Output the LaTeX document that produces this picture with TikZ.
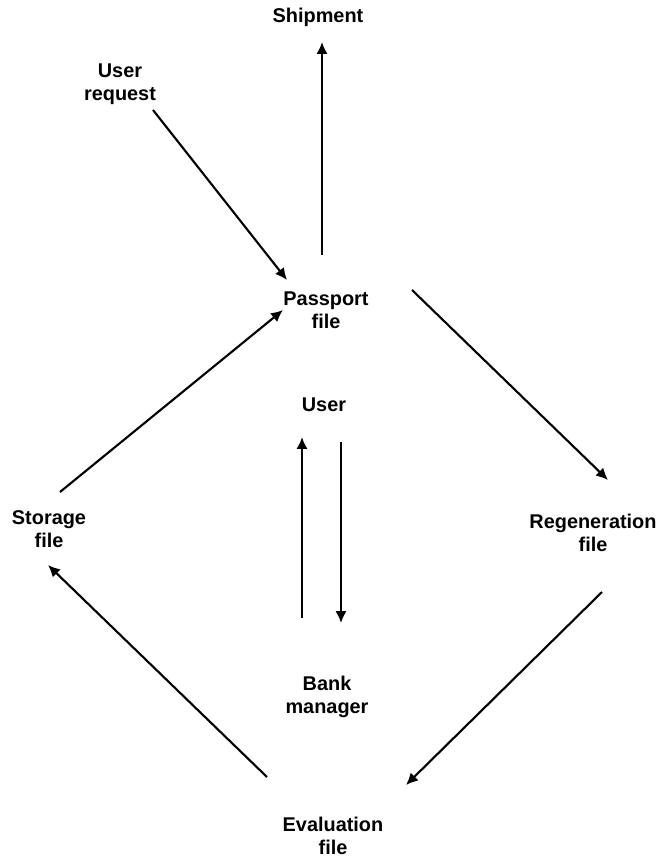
\documentclass[tikz,border=0pt]{standalone}
\usepackage{fontspec}
\setmainfont{Liberation Sans}
\usetikzlibrary{arrows.meta, calc}

\begin{document}
\begin{tikzpicture} [x=0.0265cm, y=-0.0265cm,
            file/.style={font=\bfseries\fontsize{15}{17.5}\selectfont,
                align=center, inner sep=0pt},
            flow/.style={-{Latex[length=9pt, width=8.5pt]}, line width=1.6pt}]
            \useasboundingbox (0,0) rectangle (663,859);

            % Shipment
            \node (ship) [file] at (318,17) {Shipment};

            % User request
            \node (ureq) [file] at (120,84) {User\\request};

            % Passport file
            \node (pass) [file] at (326,310) {Passport\\file};

            % User
            \node (user) [file] at (324,405) {User};

            % Storage file
            \node (stor) [file] at (49,529) {Storage\\file};

            % Regeneration file
            \node (regen) [file] at (593,533) {Regeneration\\file};

            % Bank manager
            \node (bank) [file] at (327,697) {Bank\\manager};

            % Evaluation file
            \node (eval) [file] at (333,836) {Evaluation\\file};

            % Arrows
            \draw [flow] ($(pass)+(-4,-55)$) -- ($(ship)+(4,25)$);
            \draw [flow] ($(ureq)+(33,26)$) -- ($(pass)+(-39,-30)$);
            \draw [flow] ($(pass)+(86,-20)$) -- ($(regen)+(15,-53)$);
            \draw [flow] ($(regen)+(9,59)$) -- ($(eval)+(73,-51)$);
            \draw [flow] ($(eval)+(-66,-59)$) -- ($(stor)+(-1,36)$);
            \draw [flow] ($(stor)+(11,-37)$) -- ($(pass)+(-43,0)$);
            \draw [flow] ($(bank)+(-25,-79)$) -- ($(user)+(-22,32)$);
            \draw [flow] ($(user)+(17,37)$) -- ($(bank)+(14,-74)$);
\end{tikzpicture}
\end{document}
